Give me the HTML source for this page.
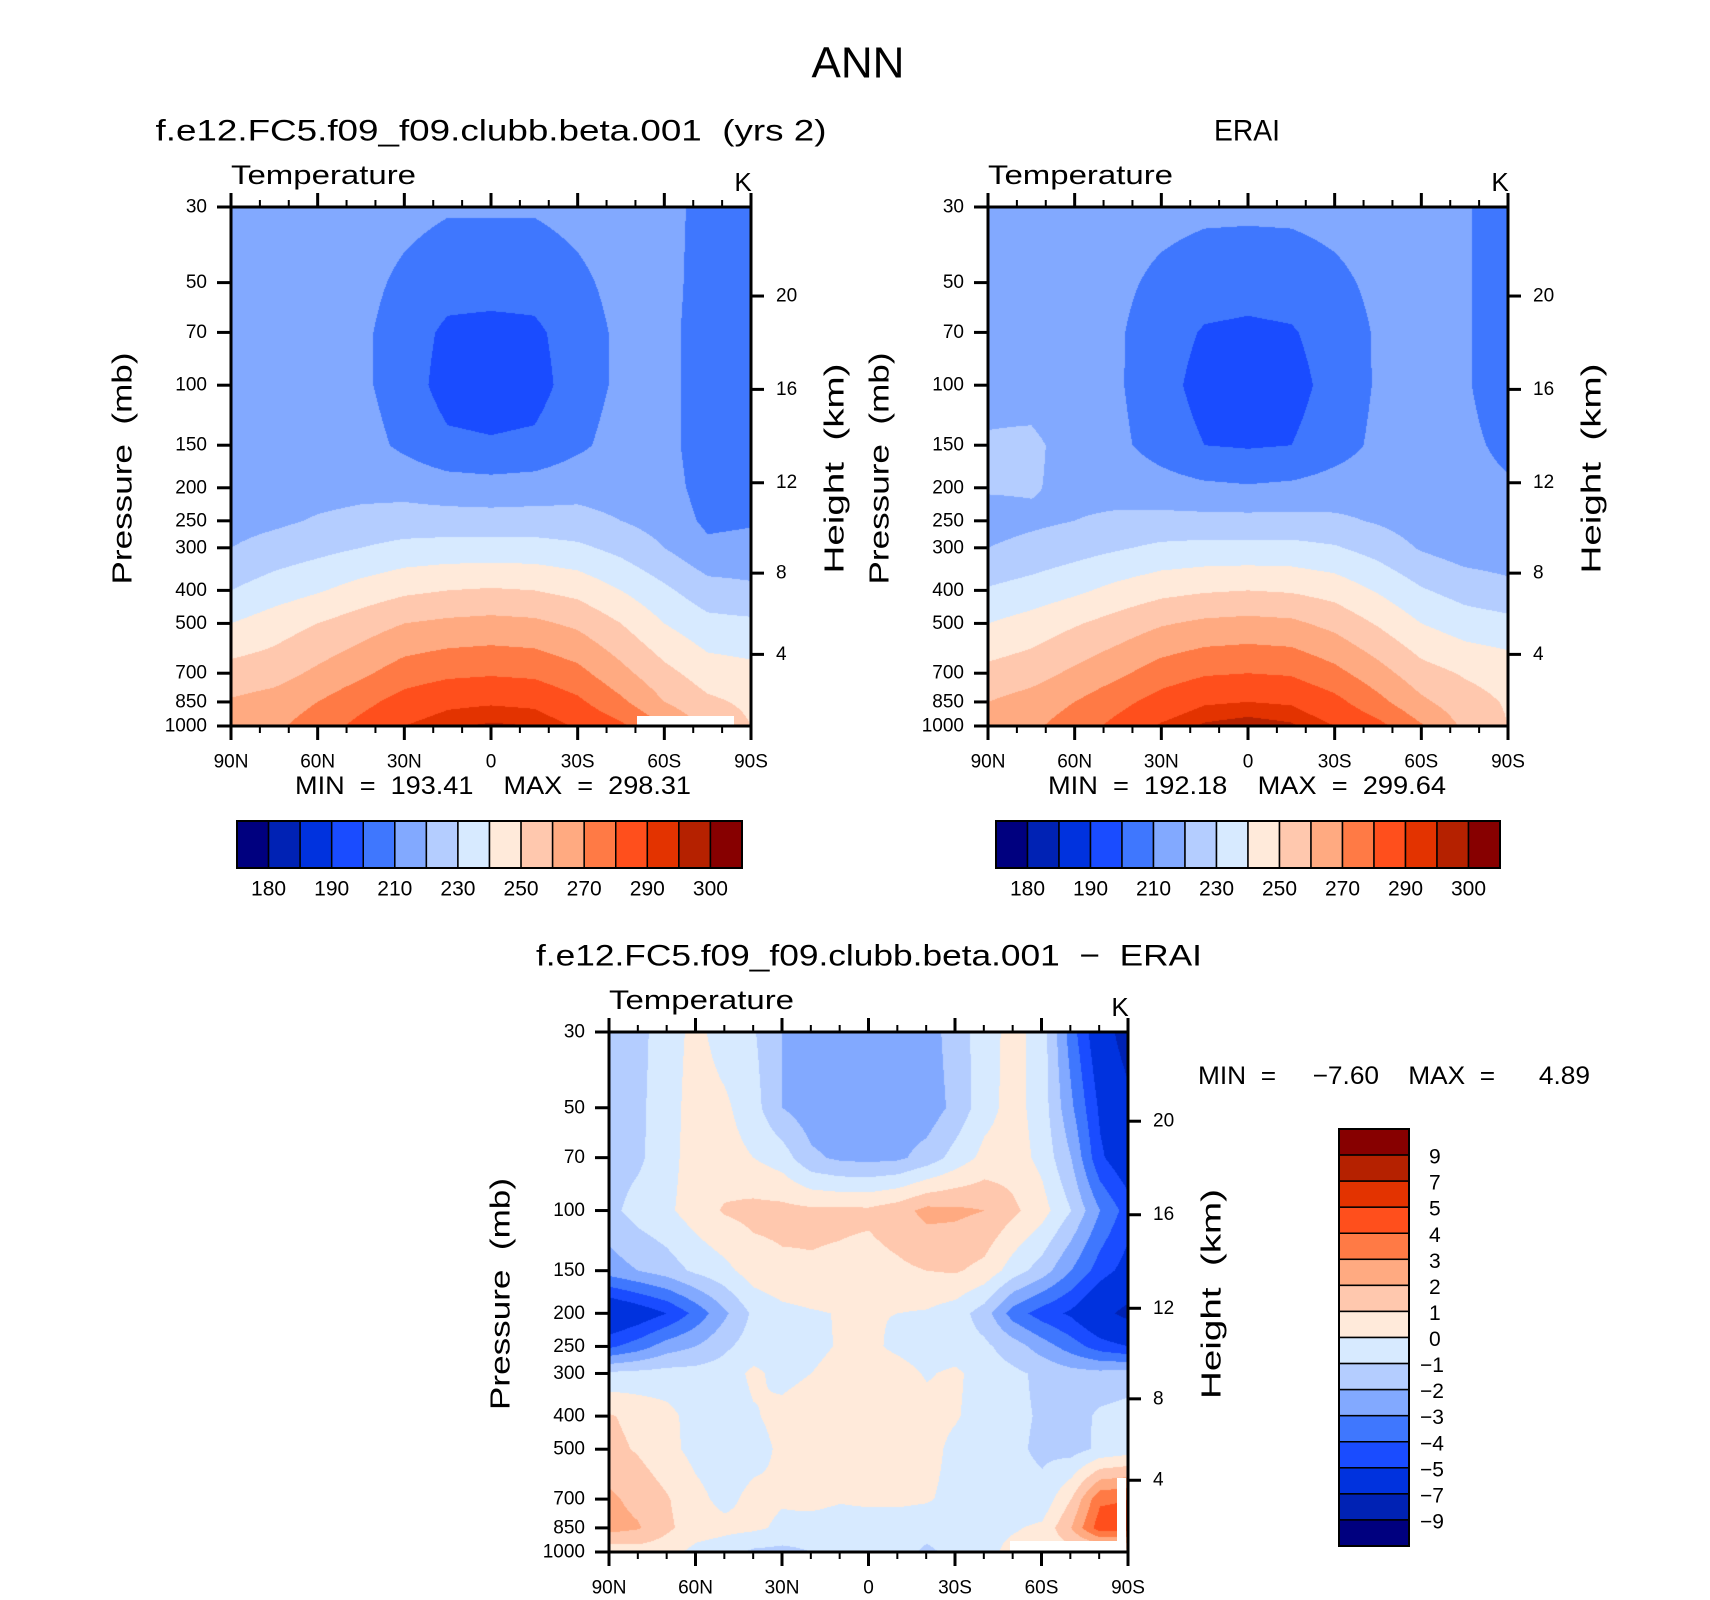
<!DOCTYPE html>
<html><head><meta charset="utf-8">
<style>
html,body{margin:0;padding:0;background:#fff;}
#root{position:relative;width:1710px;height:1600px;overflow:hidden;font-family:"Liberation Sans",sans-serif;}
canvas{position:absolute;}
svg{position:absolute;left:0;top:0;}
</style></head>
<body>
<div id="root">
<canvas id="c1" style="left:231px;top:207px" width="520" height="519"></canvas>
<canvas id="c2" style="left:988px;top:207px" width="520" height="519"></canvas>
<canvas id="c3" style="left:609px;top:1032px" width="520" height="520"></canvas>
<svg id="ov" width="1710" height="1600"></svg>
</div>
<script>
// ---- data ----
const pressureLevels = [30,50,70,100,150,200,250,300,400,500,700,850,1000];
const latsCoarse = [90,75,60,45,30,15,0,-15,-30,-45,-60,-75,-90];
const latsFine = [90,80,70,60,50,40,30,20,10,0,-10,-20,-30,-40,-50,-60,-70,-80,-90];
const modelTemp = [
[216,216,216,215,213,211,211,211,213,215,214,206,205],
[216,216,215,213,208,204,204,204,208,213,214,205,204],
[215,215,214,212,205,198,197,198,205,212,213,205,203],
[214,214,213,212,205,196,195,196,205,212,213,205,203],
[214,214,213,214,208,202,201,202,208,214,213,205,203],
[214,215,216,217,217,215,214,215,217,216,214,206,205],
[216,218,221,223,224,224,224,224,223,220,216,208,209],
[220,224,227,230,233,234,234,234,232,227,220,212,213],
[230,235,239,244,248,250,251,250,247,240,232,224,222],
[240,245,250,255,260,262,263,262,258,250,240,233,232],
[254,256,262,268,275,278,279,278,273,263,253,245,243],
[261,264,270,277,284,288,289,288,282,272,260,252,248],
[265,268,275,283,290,294,296,295,289,282,270,258,250]];
const eraiTemp = [
[215,215,215,214,213,212,212,212,213,214,214,211,205],
[215,215,214,212,208,205,204,205,208,212,214,211,205],
[215,215,213,211,205,199,198,199,205,211,213,211,205],
[217,216,213,211,204,196,195,196,204,211,213,211,205],
[221,222,216,212,206,200,199,200,206,212,213,212,208],
[221,221,217,216,214,212,211,212,214,215,214,213,211],
[216,218,220,222,223,223,223,223,222,219,215,213,212],
[220,223,226,229,232,233,233,233,231,226,219,215,214],
[231,234,238,243,247,249,250,249,246,239,231,226,223],
[240,244,249,254,259,262,263,262,257,249,240,235,233],
[253,256,262,268,275,279,280,279,273,264,254,249,246],
[260,264,270,277,284,289,290,289,283,273,262,254,249],
[263,268,275,283,291,296,298,296,290,283,271,258,250]];
const diffTemp = [
[-1.5,-1.3,-0.5,0.3,-0.5,-0.9,-2.0,-2.5,-2.5,-2.5,-2.5,-2.5,-1.5,-0.5,0.4,-0.5,-3.5,-6.0,-8.0],
[-1.5,-1.2,-0.5,0.5,0.2,-0.6,-2.0,-2.6,-2.6,-2.6,-2.6,-2.6,-1.7,-0.4,0.4,-0.5,-2.8,-5.2,-6.5],
[-1.5,-1.2,-0.4,0.5,0.4,0.0,-0.5,-1.8,-2.2,-2.3,-2.2,-1.6,-0.6,0.3,0.5,-0.3,-2.0,-4.8,-6.0],
[-1.3,-0.6,-0.2,0.5,1.1,1.3,1.3,1.2,1.2,1.2,1.6,2.3,2.2,2.0,1.2,0.4,-1.0,-3.0,-4.5],
[-2.5,-2.0,-1.5,-0.8,-0.3,0.5,0.8,0.9,0.8,0.6,0.8,1.0,1.1,0.7,-0.5,-1.5,-3.0,-4.5,-5.5],
[-6.5,-5.8,-5.0,-3.7,-2.2,-0.8,-0.3,-0.1,0.05,0.05,0.0,-0.1,-0.5,-1.5,-3.5,-4.5,-5.2,-6.5,-7.5],
[-4.2,-3.5,-2.5,-2.0,-1.2,-0.5,-0.4,-0.3,0.1,0.2,-0.2,-0.5,-0.6,-0.8,-1.5,-2.5,-3.5,-4.5,-5.0],
[-0.8,-0.7,-0.6,-0.6,-0.5,0.2,-0.3,0.0,0.4,0.5,0.4,-0.1,0.2,-0.5,-0.8,-1.2,-1.6,-1.7,-1.5],
[1.1,0.7,0.3,-0.4,-0.6,-0.1,0.3,0.6,0.7,0.7,0.6,0.4,0.1,-0.5,-0.8,-1.1,-1.5,-0.8,-0.6],
[1.3,0.9,0.3,-0.3,-0.6,-0.4,0.2,0.6,0.7,0.7,0.6,0.4,-0.3,-0.6,-0.8,-1.2,-1.4,-0.8,-0.5],
[2.2,1.7,1.1,0.3,-0.3,0.3,0.1,0.3,0.1,0.2,0.2,0.1,-0.3,-0.5,-0.6,-0.7,1.0,3.8,4.0],
[2.4,2.1,1.2,0.5,0.3,0.2,-0.2,-0.4,-0.5,-0.5,-0.5,-0.6,-0.5,-0.3,-0.1,0.2,2.0,4.6,4.5],
[0.3,0.5,0.4,-0.3,-0.6,-1.2,-1.3,-1.0,-0.6,-0.5,-0.6,-1.2,-0.7,-0.3,0.3,0.4,0.5,0.5,0.4]];
const tempLevels = [180,185,190,200,210,220,230,240,250,260,270,280,290,295,300];
const tempTickLabels = ["180","190","210","230","250","270","290","300"];
const diffLevels = [-9,-7,-5,-4,-3,-2,-1,0,1,2,3,4,5,7,9];
const diffTickLabels = ["9","7","5","4","3","2","1","0","−1","−2","−3","−4","−5","−7","−9"];
const heightTicks = [4,8,12,16,20];
const latTicks = [90,60,30,0,-30,-60,-90];
const latTickLabels = ["90N","60N","30N","0","30S","60S","90S"];
const colors = ["#00007f","#0022b4","#0032de","#1a4cff","#3f77fe","#82a9ff","#b4cdff","#d7eaff","#ffeada","#ffc8ae","#ffaa81","#ff7a45","#ff4f1c","#e33300","#b52100","#870000"];

// ---- scales ----
const P0=30,P1=1000,L=Math.log(P1/P0);
function pFrac(p){return Math.log(p/P0)/L;}
function latFrac(lat){return (90-lat)/180;}
function zToP(km){const z=km*1000;return z<=11000?1013.25*Math.pow(1-2.25577e-5*z,5.25588):226.32*Math.exp(-(z-11000)/6341.6);}
function hexRgb(h){return [parseInt(h.substr(1,2),16),parseInt(h.substr(3,2),16),parseInt(h.substr(5,2),16)];}
const rgb=colors.map(hexRgb);
function colorIdx(v,lev){let i=0;while(i<lev.length&&v>=lev[i])i++;return i;}

function drawField(id,grid,lats,lev){
  const c=document.getElementById(id),ctx=c.getContext('2d'),W=c.width,H=c.height;
  const img=ctx.createImageData(W,H);
  const pf=pressureLevels.map(pFrac), lf=lats.map(latFrac);
  for(let y=0;y<H;y++){
    const fy=(y+0.5)/H;let r=0;while(r<pf.length-2&&fy>pf[r+1])r++;
    const ty=Math.min(1,Math.max(0,(fy-pf[r])/(pf[r+1]-pf[r])));
    for(let x=0;x<W;x++){
      const fx=(x+0.5)/W;let k=0;while(k<lf.length-2&&fx>lf[k+1])k++;
      const tx=Math.min(1,Math.max(0,(fx-lf[k])/(lf[k+1]-lf[k])));
      const v=(grid[r][k]*(1-tx)+grid[r][k+1]*tx)*(1-ty)+(grid[r+1][k]*(1-tx)+grid[r+1][k+1]*tx)*ty;
      const col=rgb[colorIdx(v,lev)],o=(y*W+x)*4;
      img.data[o]=col[0];img.data[o+1]=col[1];img.data[o+2]=col[2];img.data[o+3]=255;
    }
  }
  ctx.putImageData(img,0,0);
}
drawField('c1',modelTemp,latsCoarse,tempLevels);
drawField('c2',eraiTemp,latsCoarse,tempLevels);
drawField('c3',diffTemp,latsFine,diffLevels);

// ---- overlay ----
const NS='http://www.w3.org/2000/svg',ov=document.getElementById('ov');
function mk(tag,attrs,parent){const e=document.createElementNS(NS,tag);for(const k in attrs)e.setAttribute(k,attrs[k]);(parent||ov).appendChild(e);return e;}
function txt(s,x,y,size,anchor,parent,extra){const e=mk('text',Object.assign({x:x,y:y,'font-size':size,'text-anchor':anchor||'start','dominant-baseline':'central',fill:'#000','font-family':'Liberation Sans, sans-serif'},extra||{}),parent);e.textContent=s;return e;}

function drawPanel(x0,y0,W,H,name,title,titleX,titleLen,minmax,mmX,mmLen,mmY){
  const g=mk('g',{});
  
  
  if(title){const t=txt(title,titleX,y0-76,30,'middle',g,titleLen?{textLength:titleLen,lengthAdjust:'spacingAndGlyphs'}:{});
    }
  const tt=txt('Temperature',x0,y0-32,27,'start',g,{textLength:185,lengthAdjust:'spacingAndGlyphs'});
  
  const ku=txt('K',x0+W-8,y0-25,26,'middle',g);
  
  const fr=mk('rect',{x:x0,y:y0,width:W,height:H,fill:'none',stroke:'#000','stroke-width':3},g);
  
  for(let lat=90;lat>=-90;lat-=10){
    const x=x0+latFrac(lat)*W,maj=lat%30===0;
    mk('line',{x1:x,x2:x,y1:y0,y2:y0-(maj?14:7),stroke:'#000','stroke-width':maj?3:2},g);
    mk('line',{x1:x,x2:x,y1:y0+H,y2:y0+H+(maj?14:7),stroke:'#000','stroke-width':maj?3:2},g);
  }
  latTicks.forEach((lat,i)=>{const t=txt(latTickLabels[i],x0+latFrac(lat)*W,y0+H+36,19,'middle',g);
    });
  pressureLevels.forEach(p=>{const y=y0+pFrac(p)*H;
    mk('line',{x1:x0,x2:x0-14,y1:y,y2:y,stroke:'#000','stroke-width':3},g);
    const t=txt(String(p),x0-24,y,19,'end',g);
    });
  heightTicks.forEach(z=>{const y=y0+pFrac(zToP(z))*H;
    mk('line',{x1:x0+W,x2:x0+W+13,y1:y,y2:y,stroke:'#000','stroke-width':3},g);
    const t=txt(String(z),x0+W+25,y,19,'start',g);
    });
  const ya=txt('Pressure\u00a0\u00a0(mb)',0,0,28,'middle',g,{transform:`translate(${x0-109},${y0+H/2+2}) rotate(-90)`,textLength:232,lengthAdjust:'spacingAndGlyphs'});
  
  const yb=txt('Height\u00a0\u00a0(km)',0,0,28,'middle',g,{transform:`translate(${x0+W+83},${y0+H/2+2}) rotate(-90)`,textLength:210,lengthAdjust:'spacingAndGlyphs'});
  
  const mm=txt(minmax,mmX,mmY,25,'start',g,{textLength:mmLen,lengthAdjust:'spacingAndGlyphs'});
  
  return g;
}
function hbar(x0,y0,W,H){
  const g=mk('g',{});
  
  const bw=W/colors.length;
  colors.forEach((c,i)=>{const r=mk('rect',{x:x0+i*bw,y:y0,width:bw,height:H,fill:c,stroke:'#000','stroke-width':1.5},g);
    });
  mk('rect',{x:x0,y:y0,width:W,height:H,fill:'none',stroke:'#000','stroke-width':2},g);
  tempTickLabels.forEach((s,i)=>{const t=txt(s,x0+(2*i+1)*bw,y0+H+21,21,'middle',g);
    });
}
function vbar(x0,y0,W,H){
  const g=mk('g',{});
  
  const bh=H/colors.length;
  for(let i=0;i<colors.length;i++){const r=mk('rect',{x:x0,y:y0+i*bh,width:W,height:bh,fill:colors[colors.length-1-i],stroke:'#000','stroke-width':1.5},g);
    }
  mk('rect',{x:x0,y:y0,width:W,height:H,fill:'none',stroke:'#000','stroke-width':2},g);
  diffTickLabels.forEach((s,i)=>{const t=txt(s,x0+W+(s.length>1?11:20),y0+(i+1)*bh+2,21,'start',g);
    });
}
// missing data (white)
[[637,716,97,9],[1010,1541,116,10],[1117,1478,9,73]].forEach(r=>{const e=mk('rect',{x:r[0],y:r[1],width:r[2],height:r[3],fill:'#fff'});
  });

const main=txt('ANN',858,63,44,'middle');

const S='\u00a0';
drawPanel(231,207,520,519,'model','f.e12.FC5.f09_f09.clubb.beta.001'+S+S+'(yrs'+S+'2)',491,671,'MIN'+S+S+'='+S+S+'193.41'+S+S+S+S+'MAX'+S+S+'='+S+S+'298.31',295,396,786);
drawPanel(988,207,520,519,'erai','ERAI',1247,66,'MIN'+S+S+'='+S+S+'192.18'+S+S+S+S+'MAX'+S+S+'='+S+S+'299.64',1048,398,786);
drawPanel(609,1032,519,520,'difference','f.e12.FC5.f09_f09.clubb.beta.001'+S+S+'−'+S+S+'ERAI',869,666,'MIN'+S+S+'='+S+S+S+S+S+'−7.60'+S+S+S+S+'MAX'+S+S+'='+S+S+S+S+S+S+'4.89',1198,392,1076);
hbar(237,821,505,47);
hbar(996,821,504,47);
vbar(1339,1129,70,417);
</script>
</body></html>
